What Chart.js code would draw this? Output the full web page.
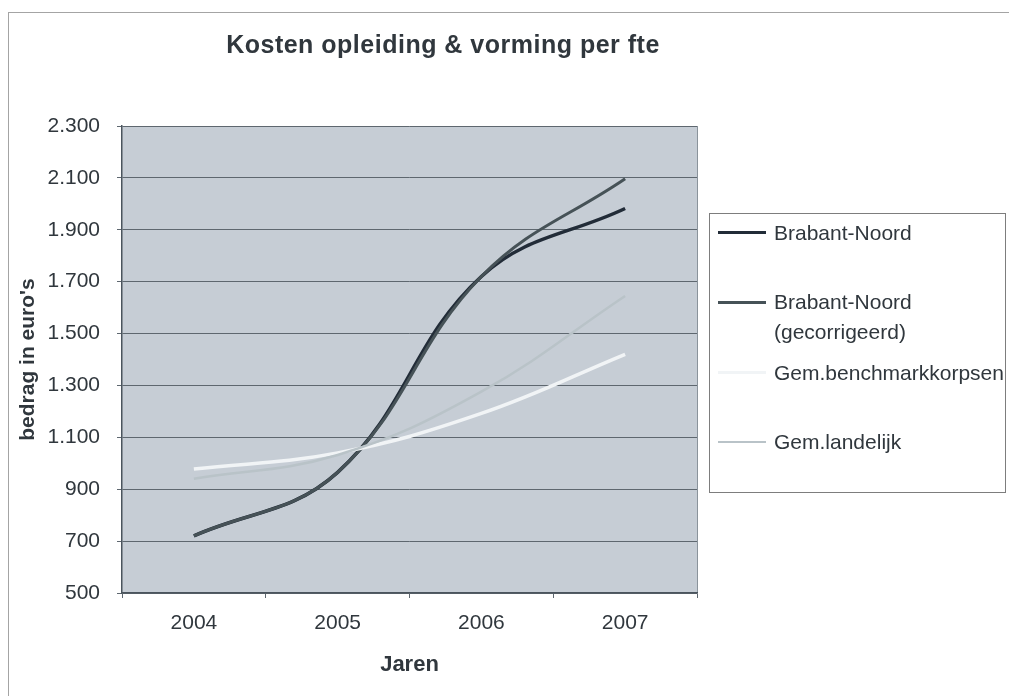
<!DOCTYPE html>
<html>
<head>
<meta charset="utf-8">
<script src="https://cdn.jsdelivr.net/npm/chart.js@4.4.1/dist/chart.umd.min.js"></script>
<style>
  html, body { margin: 0; padding: 0; background: #fff; overflow: hidden; }
  #wrap { position: relative; width: 1009px; height: 696px; font-family: "Liberation Sans", Arial, sans-serif; color: #30373d; }
  #chart { position: absolute; left: 0; top: 0; }
  #frame { position: absolute; left: 8px; top: 12px; width: 1100px; height: 800px; border-left: 1px solid #a4a4a4; border-top: 1px solid #a4a4a4; pointer-events: none; }
  #title { position: absolute; left: 0; top: 32px; width: 886px; text-align: center; font-weight: bold; font-size: 25px; line-height: 25px; letter-spacing: 0.5px; }
  #legend { position: absolute; left: 709px; top: 213px; width: 297px; height: 280px; border: 1px solid #7d7d7d; background: #fff; box-sizing: border-box; }
  #legend .item { position: absolute; left: 0; white-space: nowrap; font-size: 21px; line-height: 30px; }
  #legend .swatch { position: absolute; left: 8px; top: 15px; width: 48px; }
  #legend .text { position: absolute; left: 64px; top: 0; }
</style>
</head>
<body>
<div id="wrap">
  <canvas id="chart" width="1009" height="696"></canvas>
  <div id="frame"></div>
  <div id="title">Kosten opleiding &amp; vorming per fte</div>
  <div id="legend"></div>
</div>
<script>
  // data
  const years = ["2004", "2005", "2006", "2007"];
  const brabantNoord = [720, 965, 1720, 1982];
  const brabantNoordGecorrigeerd = [720, 965, 1720, 2097];
  const gemBenchmarkkorpsen = [978, 1040, 1192, 1420];
  const gemLandelijk = [940, 1032, 1276, 1645];

  const seriesNames = [["Brabant-Noord"], ["Brabant-Noord", "(gecorrigeerd)"], ["Gem.benchmarkkorpsen"], ["Gem.landelijk"]];
  const yMin = 500, yMax = 2300, yStep = 200;

  const PLOT_BG = "#c6cdd5";
  const GRID = "#5e676f";
  const TEXT = "#30373d";
  const seriesColors = ["#222c38", "#465257", "#f1f4f6", "#b9c3c8"];
  const seriesWidths = [3.5, 3, 3.5, 2.5];

  function fmtThousands(v) {
    return String(v).replace(/\B(?=(\d{3})+(?!\d))/g, ".");
  }

  const plotBackground = {
    id: "plotBackground",
    beforeDraw(chart) {
      const { ctx, chartArea: a } = chart;
      ctx.save();
      ctx.fillStyle = PLOT_BG;
      ctx.fillRect(a.left, a.top, a.width, a.height);
      ctx.strokeStyle = "#8a939b";
      ctx.lineWidth = 1;
      ctx.beginPath();
      ctx.moveTo(Math.round(a.right) + 0.5, a.top);
      ctx.lineTo(Math.round(a.right) + 0.5, a.bottom);
      ctx.stroke();
      ctx.restore();
    }
  };

  const allSeries = [brabantNoord, brabantNoordGecorrigeerd, gemBenchmarkkorpsen, gemLandelijk];

  new Chart(document.getElementById("chart"), {
    type: "line",
    data: {
      labels: years,
      datasets: allSeries.map((values, i) => ({
        label: seriesNames[i].join(" "),
        data: values,
        borderColor: seriesColors[i],
        borderWidth: seriesWidths[i],
        pointRadius: 0,
        tension: 0.4,
        fill: false,
        order: allSeries.length - i
      }))
    },
    options: {
      responsive: false,
      animation: false,
      devicePixelRatio: 1,
      layout: { padding: { top: 126, right: 312, bottom: 0, left: 0 } },
      plugins: {
        legend: { display: false },
        title: { display: false },
        tooltip: { enabled: false }
      },
      scales: {
        x: {
          type: "category",
          offset: true,
          afterFit: s => { s.height = 103; },
          grid: { display: true, drawOnChartArea: false, drawTicks: true, tickLength: 5, offset: true, color: GRID },
          border: { display: true, color: "#4a545d", width: 1.5 },
          ticks: { color: TEXT, padding: 13, font: { family: "Liberation Sans", size: 21 } },
          title: {
            display: true, text: "Jaren", color: TEXT,
            font: { family: "Liberation Sans", size: 22, weight: "bold" },
            padding: { top: 0, bottom: 18 }
          }
        },
        y: {
          min: yMin,
          max: yMax,
          afterFit: s => { s.width = 122; },
          grid: { color: GRID, lineWidth: 1, tickLength: 5 },
          border: { display: true, color: "#4a545d", width: 1.5 },
          ticks: {
            stepSize: yStep, color: TEXT, padding: 17,
            font: { family: "Liberation Sans", size: 21 },
            callback: v => fmtThousands(v)
          },
          title: {
            display: true, text: "bedrag in euro's", color: TEXT,
            font: { family: "Liberation Sans", size: 21, weight: "bold" },
            padding: { top: 16, bottom: 0 }
          }
        }
      }
    },
    plugins: [plotBackground]
  });

  // legend box, built from the same series names and colours
  const legendRows = [20, 89, 160, 229];
  const legend = document.getElementById("legend");
  seriesNames.forEach((lines, i) => {
    const item = document.createElement("div");
    item.className = "item";
    item.style.top = (legendRows[i] - 15 - 1) + "px";
    const sw = document.createElement("div");
    sw.className = "swatch";
    sw.style.borderTop = seriesWidths[i] + "px solid " + seriesColors[i];
    sw.style.marginTop = (-seriesWidths[i] / 2) + "px";
    const tx = document.createElement("div");
    tx.className = "text";
    tx.innerHTML = lines.join("<br>");
    item.appendChild(sw);
    item.appendChild(tx);
    legend.appendChild(item);
  });
</script>
</body>
</html>
